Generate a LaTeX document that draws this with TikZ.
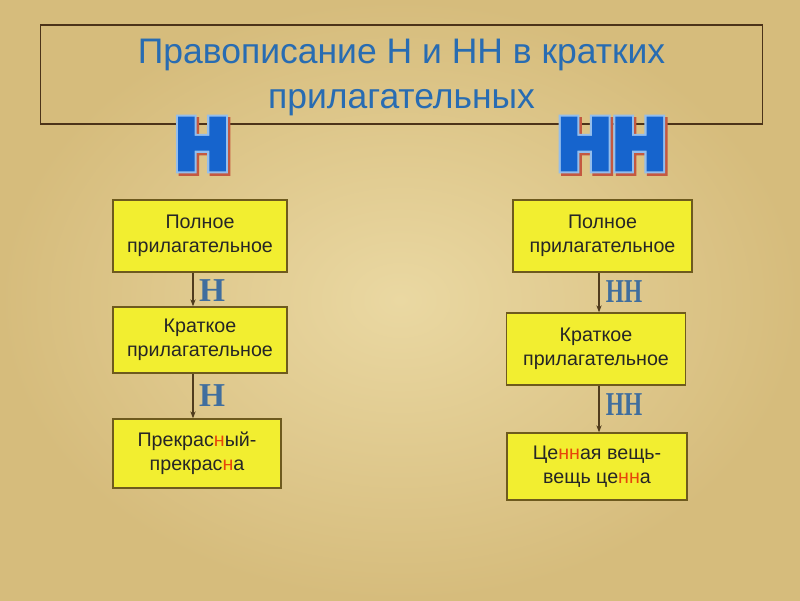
\documentclass[tikz,border=0pt]{standalone}
\usepackage{fontspec}
\setmainfont{Liberation Sans}
\newfontfamily\heavyfont{Liberation Sans}[FakeBold=9]
\newfontfamily\heavyoutline{Liberation Sans}[FakeBold=15]
\newfontfamily\labelfont{Liberation Serif}
\usetikzlibrary{arrows.meta}
\definecolor{bglight}{RGB}{234,216,162}
\definecolor{bgdark}{RGB}{214,188,124}
\definecolor{titleblue}{RGB}{40,108,178}
\definecolor{hblue}{RGB}{22,100,205}
\definecolor{hlight}{RGB}{148,190,236}
\definecolor{hshadow}{RGB}{196,88,64}
\definecolor{boxfill}{RGB}{242,238,48}
\definecolor{boxborder}{RGB}{110,90,30}
\definecolor{lblblue}{RGB}{64,110,158}
\definecolor{redn}{RGB}{232,70,10}
\definecolor{connc}{RGB}{80,60,30}
\newcommand{\twoH}{Н\kern2.2ptН}
\tikzset{
  box/.style={draw=boxborder, fill=boxfill, line width=0.8pt, align=center,
    font=\fontsize{11.2}{13.8}\selectfont, text=black!85, inner sep=0pt},
  conn/.style={draw=connc, line width=0.6pt, -{Stealth[length=4pt,width=3pt]}},
  lbl/.style={text=lblblue, inner sep=0pt},
  bigletter/.style={font=\heavyfont\bfseries\fontsize{40}{40}\selectfont, inner sep=0pt},
  bigback/.style={font=\heavyoutline\bfseries\fontsize{40}{40}\selectfont, inner sep=0pt},
}
\begin{document}
\begin{tikzpicture}[x=0.02cm, y=-0.02cm]
\useasboundingbox (0,0) rectangle (800,600);
\shade[inner color=bglight, outer color=bgdark] (0,0) rectangle (800,600);
% title box
\node[draw=black!60!brown, line width=0.6pt, minimum width=14.46cm, minimum height=1.98cm,
      inner sep=0pt] (titlebox) at (401.5,74.5) {};
\node[align=center, text=titleblue, font=\fontsize{20.2}{25.6}\selectfont, inner sep=0pt]
  (title) at (401.5,77.5) {Правописание Н и НН в кратких\\прилагательных};
% big letters
\node[bigback, text=hshadow] (lshadow) at (204.5,146.5) {Н};
\node[bigback, text=hlight] (loutline) at (202,144) {Н};
\node[bigletter, text=hblue] (lbig) at (202,144) {Н};
\node[bigback, text=hshadow] (rshadow) at (614.5,146.5) {\twoH};
\node[bigback, text=hlight] (routline) at (612,144) {\twoH};
\node[bigletter, text=hblue] (rbig) at (612,144) {\twoH};
% left column
\node[box, minimum width=3.48cm, minimum height=1.44cm] (L1) at (200,236) {Полное\\прилагательное};
\node[box, minimum width=3.48cm, minimum height=1.32cm] (L2) at (200,340) {Краткое\\прилагательное};
\node[box, minimum width=3.36cm, minimum height=1.38cm] (L3) at (197,453.5)
  {Прекрас\textcolor{redn}{н}ый-\\прекрас\textcolor{redn}{н}а};
\coordinate (la) at (193,0);
\draw[conn] (L1.south -| la) -- (L2.north -| la);
\draw[conn] (L2.south -| la) -- (L3.north -| la);
\node[lbl, font=\labelfont\bfseries\fontsize{19}{19}\selectfont] (ln1) at (212,291) {Н};
\node[lbl, font=\labelfont\bfseries\fontsize{19}{19}\selectfont] (ln2) at (212,396) {Н};
% right column
\node[box, minimum width=3.58cm, minimum height=1.44cm] (R1) at (602.5,236) {Полное\\прилагательное};
\node[box, minimum width=3.58cm, minimum height=1.44cm] (R2) at (596,349) {Краткое\\прилагательное};
\node[box, minimum width=3.60cm, minimum height=1.34cm] (R3) at (597,466.5)
  {Це\textcolor{redn}{нн}ая вещь-\\вещь це\textcolor{redn}{нн}а};
\coordinate (ra) at (599,0);
\draw[conn] (R1.south -| ra) -- (R2.north -| ra);
\draw[conn] (R2.south -| ra) -- (R3.north -| ra);
\node[lbl, xscale=0.7, font=\labelfont\bfseries\fontsize{19}{19}\selectfont] (rn1) at (624,292) {НН};
\node[lbl, xscale=0.7, font=\labelfont\bfseries\fontsize{19}{19}\selectfont] (rn2) at (624,405) {НН};
\end{tikzpicture}
\end{document}
